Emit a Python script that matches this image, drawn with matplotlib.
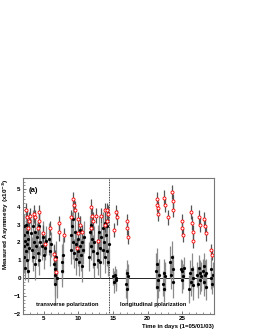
"""Measured asymmetry vs time, transverse / longitudinal polarization."""
import matplotlib
matplotlib.use("Agg")
import matplotlib.pyplot as plt
from matplotlib.ticker import MultipleLocator

plt.rcParams["font.family"] = ["Liberation Sans", "DejaVu Sans"]
plt.rcParams["font.weight"] = "bold"

# black points (transverse period)
tb_day = [2.15, 2.15, 2.2, 2.2, 2.3, 2.35, 2.4, 2.5, 2.55, 2.6, 2.65, 2.7, 2.8, 2.9,
          3.2, 3.3, 3.4, 3.5, 3.6, 3.7, 3.8, 3.9, 4.1, 4.2, 4.3, 4.4, 4.5,
          4.8, 4.9, 5.0, 5.2, 5.3, 5.8, 5.9, 6.0,
          6.5, 6.6, 6.6, 6.7, 6.8, 6.9, 7.6, 7.7, 7.8,
          8.9, 9.0, 9.1, 9.2, 9.3, 9.4, 9.5, 9.6, 9.7,
          9.9, 10.0, 10.1, 10.2, 10.3, 10.4, 10.5, 10.6, 10.7, 10.8,
          11.6, 11.7, 11.8, 11.9, 12.0, 12.1, 12.2, 12.3,
          12.7, 12.8, 12.9, 13.0, 13.1, 13.2, 13.3,
          13.5, 13.6, 13.7, 13.8, 13.9, 14.0, 14.1, 14.2, 14.3, 14.4]
tb_val = [2.9, 2.4, 1.8, 1.2, 0.6, 2.1, 1.5, 3.0, 2.6, 1.9, 1.0, 0.4, 2.2, 1.7,
          2.5, 1.6, 2.9, 1.2, 2.0, 0.8, 2.6, 1.8, 2.3, 1.4, 2.9, 1.0, 2.0,
          1.8, 2.3, 1.3, 1.7, 2.1, 2.2, 1.5, 1.9,
          0.8, 0.2, -0.3, 0.5, 1.2, 0.0, 0.9, 0.4, 1.3,
          1.6, 2.4, 2.9, 2.0, 3.3, 1.4, 2.6, 1.9, 1.1,
          1.5, 2.2, 0.9, 1.8, 2.7, 1.3, 2.0, 0.7, 1.6, 2.3,
          1.2, 2.6, 1.8, 3.0, 2.2, 1.5, 0.8, 2.0,
          1.4, 2.1, 1.0, 2.6, 1.7, 0.9, 2.3,
          1.6, 2.8, 2.0, 1.2, 3.1, 2.4, 1.5, 2.9, 0.9, 1.9]
tb_err = [0.7, 0.8, 0.6, 0.9, 0.7, 0.8, 0.6, 0.9, 0.7, 0.8, 0.7, 0.6, 0.8, 0.7,
          0.8, 0.7, 0.9, 0.8, 0.7, 0.9, 0.8, 0.7, 0.8, 0.7, 0.9, 0.8, 0.7,
          0.8, 0.9, 0.8, 0.7, 0.8, 0.9, 0.8, 0.7,
          1.1, 1.2, 1.2, 1.0, 0.9, 1.1, 1.0, 0.9, 1.0,
          0.8, 0.9, 0.8, 0.9, 1.0, 0.8, 0.9, 0.8, 0.9,
          0.8, 0.9, 0.8, 0.9, 0.8, 0.9, 0.8, 0.9, 0.8, 0.9,
          0.8, 0.9, 0.8, 0.9, 0.8, 0.9, 0.8, 0.9,
          0.8, 0.9, 0.8, 0.9, 0.8, 0.9, 0.8,
          0.8, 0.9, 0.8, 0.9, 0.8, 0.9, 0.8, 0.9, 0.8, 0.9]

# black points (longitudinal period)
lb_day = [15.0, 15.2, 15.3, 15.4, 15.5,
          16.9, 17.0, 17.1, 17.2,
          21.2, 21.3, 21.4, 21.5, 21.6,
          22.2, 22.3, 22.4, 22.5,
          23.3, 23.4, 23.5, 23.6, 23.7,
          24.8, 24.9, 25.0, 25.1, 25.2,
          26.0, 26.1, 26.3, 26.4, 26.5, 26.6,
          27.2, 27.3, 27.4, 27.5, 27.6, 27.7,
          28.0, 28.1, 28.2, 28.3, 28.4, 28.5,
          29.1, 29.2, 29.3, 29.4]
lb_val = [0.1, -0.2, 0.2, -0.1, 0.0,
          -0.3, 0.3, -0.6, 0.1,
          0.4, -0.5, 0.8, -0.1, 0.2,
          -0.3, 0.3, -0.6, 0.1,
          0.9, 0.2, 1.2, 0.5, -0.2,
          0.5, -0.1, 0.4, 0.1, 0.6,
          -0.6, 0.3, -0.2, 0.5, 0.0, -0.4,
          0.2, -0.3, 0.6, -0.1, 0.3, 0.1,
          0.4, -0.2, 0.7, 0.2, -0.5, 0.3,
          0.0, 0.5, -0.3, 0.2]
lb_err = [0.5, 0.6, 0.5, 0.6, 0.5,
          0.8, 0.7, 0.8, 0.7,
          1.0, 1.1, 0.9, 1.0, 0.9,
          0.7, 0.8, 0.7, 0.8,
          0.9, 0.8, 0.9, 0.8, 0.9,
          0.6, 0.7, 0.6, 0.7, 0.6,
          0.8, 0.7, 0.8, 0.9, 0.7, 0.8,
          0.7, 0.8, 0.7, 0.8, 0.7, 0.8,
          0.7, 0.8, 0.7, 0.8, 0.7, 0.8,
          0.6, 0.7, 0.6, 0.7]

# red open circles
r_day = [2.4, 2.6, 2.9, 2.7, 3.0, 3.6, 3.7, 4.3, 4.35, 4.2, 4.9, 5.2, 5.9,
         6.55, 6.6, 6.8, 7.2, 7.25, 7.9,
         9.2, 9.4, 9.5, 9.0, 10.0, 10.3, 9.95, 10.6, 9.8,
         11.9, 12.0, 12.1, 11.8, 12.9, 12.6, 13.3, 13.9, 14.2, 14.3, 14.15, 13.85,
         15.5, 15.55, 15.2, 17.05, 17.1, 17.15,
         21.3, 21.4, 21.5, 21.45, 22.4, 22.5, 22.9, 23.5, 23.6, 23.7,
         24.9, 25.0, 25.1, 26.2, 26.4, 26.5, 26.6, 27.4, 27.6,
         28.2, 28.3, 28.4, 29.2, 29.3]
r_val = [3.8, 3.4, 3.2, 2.8, 3.5, 3.6, 3.4, 3.7, 3.2, 2.8, 2.5, 1.9, 2.8,
         1.35, 1.1, 0.35, 3.1, 2.6, 2.4,
         4.4, 4.1, 3.8, 3.4, 3.3, 3.0, 2.5, 2.6, 1.7,
         4.0, 3.5, 3.2, 2.8, 2.1, 3.5, 3.5, 3.8, 3.8, 3.6, 3.2, 3.0,
         3.7, 3.4, 2.7, 3.2, 2.8, 2.3,
         4.4, 4.1, 3.9, 3.6, 4.5, 4.1, 3.4, 4.8, 4.3, 3.8,
         3.2, 2.8, 2.4, 3.7, 3.1, 2.6, 2.1, 3.4, 3.0,
         3.3, 2.9, 2.5, 1.6, 1.3]
r_err = [0.4, 0.4, 0.5, 0.4, 0.4, 0.5, 0.4, 0.4, 0.5, 0.4, 0.5, 0.5, 0.4,
         0.5, 0.5, 0.6, 0.4, 0.5, 0.4,
         0.4, 0.4, 0.5, 0.4, 0.4, 0.5, 0.4, 0.4, 0.5,
         0.4, 0.4, 0.5, 0.4, 0.4, 0.4, 0.4, 0.4, 0.4, 0.5, 0.4, 0.4,
         0.4, 0.4, 0.4, 0.4, 0.4, 0.4,
         0.4, 0.4, 0.4, 0.4, 0.4, 0.4, 0.4, 0.4, 0.4, 0.4,
         0.4, 0.4, 0.4, 0.4, 0.4, 0.4, 0.4, 0.4, 0.4,
         0.4, 0.4, 0.4, 0.3, 0.3]

fig = plt.figure(figsize=(2.57, 3.32), dpi=100)
ax = fig.add_axes([0.089, 0.054, 0.744, 0.41])

ax.axhline(0, color="black", lw=0.6, zorder=1)
ax.axvline(14.5, color="black", lw=0.6, ls=(0, (1, 1)), zorder=1)

eb = dict(ls="none", elinewidth=0.9, capsize=0, zorder=2)
ax.errorbar(tb_day, tb_val, yerr=tb_err, fmt="o", ms=1.3, color="black",
            ecolor="#8a8a8a", **eb)
ax.errorbar(lb_day, lb_val, yerr=lb_err, fmt="o", ms=1.3, color="black",
            ecolor="#8a8a8a", **eb)
ax.errorbar(r_day, r_val, yerr=r_err, fmt="o", ms=2.2, mfc="white",
            mec="red", mew=0.6, ecolor="#555555", **eb)

ax.set_xlim(2, 29.6)
ax.set_ylim(-2, 5.6)
ax.xaxis.set_major_locator(MultipleLocator(5))
ax.xaxis.set_minor_locator(MultipleLocator(1))
ax.yaxis.set_major_locator(MultipleLocator(1))
ax.yaxis.set_minor_locator(MultipleLocator(0.2))
ax.tick_params(which="both", direction="in", labelsize=4.5, pad=1.5,
               top=False, right=False, color="#444444")
ax.tick_params(which="major", length=2.5, width=0.5)
ax.tick_params(which="minor", length=1.3, width=0.4)
for s in ax.spines.values():
    s.set_color("#777777")
    s.set_linewidth(0.8)

ax.set_ylabel("Measured Asymmetry (x10$^{-3}$)", fontsize=4.6,
              fontweight="bold", loc="top", labelpad=2)
ax.set_xlabel("Time in days (1=05/01/03)", fontsize=4.3,
              fontweight="bold", loc="right", labelpad=2)

ax.text(2.8, 4.9, "(a)", fontsize=5.5, fontweight="bold", va="center")
ax.text(3.9, -1.45, "transverse polarization", fontsize=4.1,
        fontweight="bold", va="center")
ax.text(16.0, -1.45, "longitudinal polarization", fontsize=4.1,
        fontweight="bold", va="center")

fig.savefig("out.png", dpi=100)
plt.close(fig)
